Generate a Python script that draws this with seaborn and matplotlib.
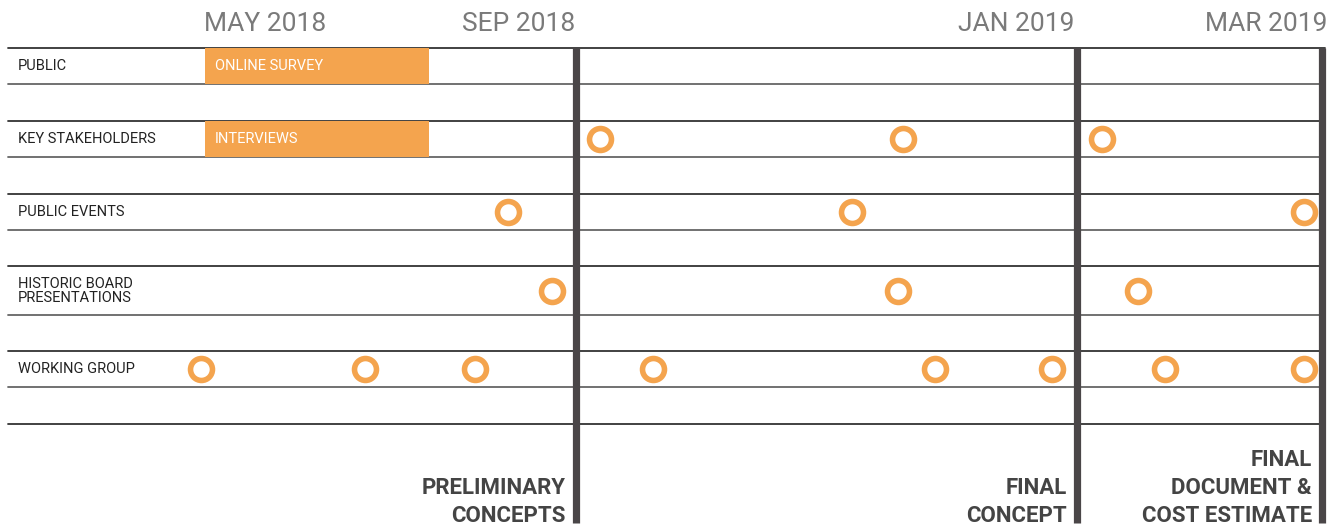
import matplotlib
matplotlib.use("Agg")
import matplotlib.pyplot as plt
import seaborn as sns
import pandas as pd

# --- data ---------------------------------------------------------------
# timeline position (left -> right)
months = ["MAY 2018", "SEP 2018", "JAN 2019", "MAR 2019"]
month_pos = [265, 519, 1016, 1266]

rows = ["PUBLIC", "KEY STAKEHOLDERS", "PUBLIC EVENTS",
        "HISTORIC BOARD\nPRESENTATIONS", "WORKING GROUP"]

# long activities (bars)
bar_rows = ["PUBLIC", "KEY STAKEHOLDERS"]
bar_labels = ["ONLINE SURVEY", "INTERVIEWS"]
bar_start = [205, 205]
bar_end = [429, 429]

# individual events (circles)
ev_key = [600, 903, 1102]
ev_events = [508, 852, 1304]
ev_board = [552, 898, 1138]
ev_group = [201, 365, 475, 653, 935, 1052, 1165, 1304]

milestones = ["PRELIMINARY\nCONCEPTS", "FINAL\nCONCEPT", "FINAL\nDOCUMENT &\nCOST ESTIMATE"]
milestone_pos = [576, 1077, 1322]

# --- layout (pixel-like canvas) ----------------------------------------
W, H = 1340, 527
grid_y = [48, 84, 121, 157, 194, 230, 266, 315, 351, 387, 424]
row_band = {
    "PUBLIC": (48, 84),
    "KEY STAKEHOLDERS": (121, 157),
    "PUBLIC EVENTS": (194, 230),
    "HISTORIC BOARD\nPRESENTATIONS": (266, 315),
    "WORKING GROUP": (351, 387),
}
row_mid = {k: (a + b) / 2 for k, (a, b) in row_band.items()}

sns.set_theme(style="white")
plt.rcParams["font.family"] = ["Roboto", "DejaVu Sans"]

orange = "#F4A44E"
dark = "#4A4648"

fig = plt.figure(figsize=(W / 100, H / 100), dpi=100)
ax = fig.add_axes([0, 0, 1, 1])

# horizontal row lines
for i, y in enumerate(grid_y):
    ax.plot([8, 1325], [y, y], color="#333333" if i % 2 == 0 else "#666666",
            lw=1.3, zorder=1)

# activity bars
for r, lab, s, e in zip(bar_rows, bar_labels, bar_start, bar_end):
    top, bot = row_band[r]
    ax.barh(row_mid[r], e - s, left=s, height=bot - top, color=orange,
            edgecolor="none", linewidth=0, zorder=2)
    ax.text(s + 10, row_mid[r], lab, color="white", fontsize=10.5,
            va="center", ha="left", zorder=3)

# row labels
for r in rows:
    ax.text(18, row_mid[r], r, fontsize=10.5, color="#222222", va="center",
            ha="left", linespacing=1.0)

# month headers
for m, x in zip(months, month_pos):
    ax.text(x, 24, m, fontsize=19, color="#7a7a7a", ha="center", va="center")

# milestone bars + labels
for lab, x in zip(milestones, milestone_pos):
    ax.plot([x, x], [48, 523], color=dark, lw=5.2, zorder=4,
            solid_capstyle="butt")
    ax.text(x - 10, 527, lab, fontsize=16, fontweight="bold", color="#444444",
            ha="right", va="bottom", linespacing=1.35)

# event circles
events = pd.DataFrame({
    "x": ev_key + ev_events + ev_board + ev_group,
    "row": (["KEY STAKEHOLDERS"] * len(ev_key) + ["PUBLIC EVENTS"] * len(ev_events)
            + ["HISTORIC BOARD\nPRESENTATIONS"] * len(ev_board)
            + ["WORKING GROUP"] * len(ev_group)),
})
events["y"] = events["row"].map(row_mid)
sns.scatterplot(data=events, x="x", y="y", ax=ax, s=250, marker="o",
                facecolor="white", edgecolor=orange, linewidth=4,
                zorder=5, legend=False)
ax.set_xlim(0, W)
ax.set_ylim(H, 0)
ax.axis("off")

fig.savefig("out.png", dpi=100)
